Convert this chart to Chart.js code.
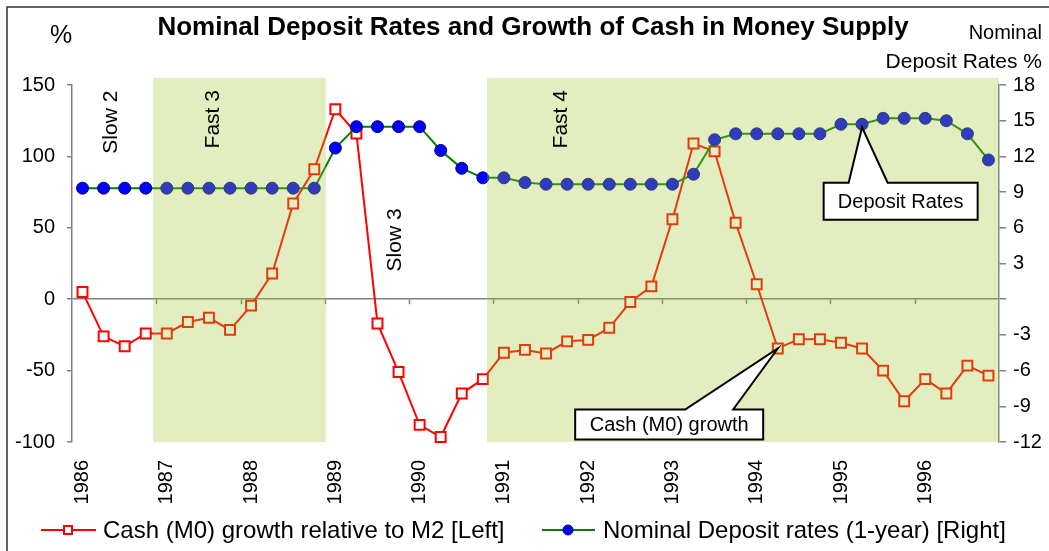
<!DOCTYPE html>
<html>
<head>
<meta charset="utf-8">
<script src="https://cdn.jsdelivr.net/npm/chart.js@4.4.1/dist/chart.umd.min.js"></script>
<style>
  html, body { margin: 0; padding: 0; background: #fff; }
  canvas { display: block; }
</style>
</head>
<body>
<canvas id="chart" width="1049" height="551"></canvas>
<script>
// Data (quarterly, 1986 Q1 - 1996 Q4)
const years = [1986, 1987, 1988, 1989, 1990, 1991, 1992, 1993, 1994, 1995, 1996];
const cashGrowth = [
  5, -26, -33, -24,
  -24, -16, -13, -21.5,
  -4.5, 18, 67, 91,
  133, 116, -17, -51,
  -88, -96.5, -66, -56,
  -37.5, -35.5, -38, -29.5,
  -28.5, -20, -2, 9,
  56, 109, 103.5, 53.5,
  10.5, -34.5, -28, -28,
  -30.5, -34.5, -50, -71.5,
  -56, -66, -46.5, -53.5
];
const depositRates = [
  9.33, 9.33, 9.33, 9.33,
  9.33, 9.33, 9.33, 9.33,
  9.33, 9.33, 9.33, 9.33,
  12.7, 14.5, 14.5, 14.5,
  14.5, 12.5, 11.0, 10.2,
  10.2, 9.8, 9.66, 9.66,
  9.66, 9.66, 9.66, 9.66,
  9.66, 10.5, 13.4, 13.9,
  13.9, 13.9, 13.9, 13.9,
  14.7, 14.7, 15.2, 15.2,
  15.2, 15.0, 13.9, 11.7
];
const fastPeriods = [[3.35, 11.55], [19.2, 43.5]];
const phaseNames = ['Slow 2', 'Fast 3', 'Slow 3', 'Fast 4'];

const labels = [];
years.forEach(yr => { labels.push(String(yr), '', '', ''); });

const FONT = '"Liberation Sans", Arial, sans-serif';

function drawCallout(ctx, tipX, tipY, cx, cy, w, h, b0, b1, text) {
  const left = cx - w / 2, top = cy - h / 2;
  ctx.beginPath();
  ctx.moveTo(left, top);
  ctx.lineTo(cx + b0, top);
  ctx.lineTo(tipX, tipY);
  ctx.lineTo(cx + b1, top);
  ctx.lineTo(left + w, top);
  ctx.lineTo(left + w, top + h);
  ctx.lineTo(left, top + h);
  ctx.closePath();
  ctx.fillStyle = '#fff';
  ctx.fill();
  ctx.strokeStyle = '#000';
  ctx.lineWidth = 2;
  ctx.stroke();
  ctx.fillStyle = '#000';
  ctx.font = '20px ' + FONT;
  ctx.textAlign = 'center';
  ctx.textBaseline = 'middle';
  ctx.fillText(text, cx, cy + 1);
}

const decor = {
  id: 'decor',
  beforeDatasetsDraw(chart) {
    const { ctx, scales: { x, y } } = chart;
    const y0 = y.getPixelForValue(0);
    ctx.save();
    ctx.strokeStyle = '#808080';
    ctx.lineWidth = 1.5;
    for (let i = 4; i < labels.length; i += 4) {
      const px = Math.round(x.getPixelForValue(i - 0.5)) + 0.5;
      ctx.beginPath();
      ctx.moveTo(px, y0);
      ctx.lineTo(px, y0 + 5);
      ctx.stroke();
    }
    ctx.restore();
  },
  afterDraw(chart) {
    const { ctx, scales: { x, y } } = chart;
    ctx.save();

    // shaded "fast" periods, laid over the plot
    ctx.fillStyle = 'rgba(160, 200, 43, 0.3)';
    const yTop = y.getPixelForValue(155), yBot = y.getPixelForValue(-100);
    fastPeriods.forEach(([a, b]) => {
      const x0 = x.getPixelForValue(a), x1 = x.getPixelForValue(b);
      ctx.fillRect(x0, yTop, x1 - x0, yBot - yTop);
    });

    // phase labels
    const phasePos = [[1.35, 124], [6.2, 126], [14.85, 41.5], [22.7, 126]];
    ctx.fillStyle = '#000';
    ctx.font = '21px ' + FONT;
    ctx.textAlign = 'center';
    ctx.textBaseline = 'middle';
    phaseNames.forEach((t, i) => {
      ctx.save();
      ctx.translate(x.getPixelForValue(phasePos[i][0]), y.getPixelForValue(phasePos[i][1]));
      ctx.rotate(-Math.PI / 2);
      ctx.fillText(t, 0, 0);
      ctx.restore();
    });

    // callouts
    const pDep = chart.getDatasetMeta(1).data[37];
    drawCallout(ctx, pDep.x, pDep.y + 3, pDep.x + 38.6, pDep.y + 77, 154, 37, -52, -13, 'Deposit Rates');
    const pCash = chart.getDatasetMeta(0).data[33];
    drawCallout(ctx, pCash.x, pCash.y, pCash.x - 108.6, pCash.y + 76, 188, 30, 16, 64, 'Cash (M0) growth');

    // title and axis titles
    ctx.fillStyle = '#000';
    ctx.textBaseline = 'alphabetic';
    ctx.textAlign = 'center';
    ctx.font = 'bold 26px ' + FONT;
    ctx.fillText('Nominal Deposit Rates and Growth of Cash in Money Supply', 533, 35);
    ctx.font = '25px ' + FONT;
    ctx.fillText('%', 61, 43);
    ctx.textAlign = 'right';
    ctx.font = '20px ' + FONT;
    ctx.fillText('Nominal', 1042, 39);
    ctx.font = '21px ' + FONT;
    ctx.fillText('Deposit Rates %', 1042, 68);

    // legend
    const ly = 530;
    ctx.lineWidth = 2;
    ctx.strokeStyle = '#ff0000';
    ctx.beginPath(); ctx.moveTo(41, ly); ctx.lineTo(96, ly); ctx.stroke();
    ctx.fillStyle = '#fff';
    ctx.fillRect(64, ly - 4, 8, 8);
    ctx.strokeRect(64, ly - 4, 8, 8);
    ctx.strokeStyle = '#008000';
    ctx.beginPath(); ctx.moveTo(542, ly); ctx.lineTo(595, ly); ctx.stroke();
    ctx.fillStyle = '#0000ff';
    ctx.strokeStyle = '#000080';
    ctx.lineWidth = 1;
    ctx.beginPath(); ctx.arc(568, ly, 5, 0, Math.PI * 2); ctx.fill(); ctx.stroke();
    ctx.fillStyle = '#000';
    ctx.font = '24px ' + FONT;
    ctx.textAlign = 'left';
    ctx.fillText(chart.data.datasets[0].label, 103, ly + 8);
    ctx.fillText(chart.data.datasets[1].label, 603, ly + 8);

    // outer frame
    ctx.strokeStyle = '#333';
    ctx.lineWidth = 1.5;
    ctx.strokeRect(7, 7, 1200, 700);
    ctx.restore();
  }
};

new Chart(document.getElementById('chart'), {
  type: 'line',
  data: {
    labels: labels,
    datasets: [
      {
        label: 'Cash (M0) growth relative to M2 [Left]',
        data: cashGrowth,
        yAxisID: 'y',
        borderColor: '#ff0000',
        borderWidth: 2,
        pointStyle: 'rect',
        pointRadius: 7,
        pointBorderWidth: 2,
        pointBackgroundColor: '#fff',
        pointBorderColor: '#ff0000',
        clip: 10,
        order: 2
      },
      {
        label: 'Nominal Deposit rates (1-year) [Right]',
        data: depositRates,
        yAxisID: 'y1',
        borderColor: '#008000',
        borderWidth: 2,
        pointStyle: 'circle',
        pointRadius: 6,
        pointBorderWidth: 1,
        pointBackgroundColor: '#0000ff',
        pointBorderColor: '#000080',
        clip: 10,
        order: 1
      }
    ]
  },
  options: {
    responsive: false,
    animation: false,
    devicePixelRatio: 1,
    layout: { padding: { top: 85, bottom: 39, left: 0, right: 0 } },
    plugins: { legend: { display: false }, title: { display: false }, tooltip: { enabled: false } },
    scales: {
      x: {
        type: 'category',
        offset: true,
        grid: { display: false },
        border: { display: false },
        ticks: { autoSkip: false, minRotation: 90, maxRotation: 90, padding: 10, color: '#000', font: { family: FONT, size: 20 } },
        afterFit(s) { s.height = 70; }
      },
      y: {
        position: 'left',
        min: -100,
        max: 150,
        ticks: { stepSize: 50, color: '#000', padding: 12, font: { family: FONT, size: 20 } },
        grid: {
          color: c => (c.tick && c.tick.value === 0 ? '#808080' : 'rgba(0,0,0,0)'),
          lineWidth: 1.5,
          tickColor: '#808080',
          tickLength: 5
        },
        border: { display: true, color: '#808080', width: 1.5 },
        afterFit(s) { s.width = 72; }
      },
      y1: {
        position: 'right',
        min: -12,
        max: 18,
        ticks: { stepSize: 3, color: '#000', padding: 7, font: { family: FONT, size: 20 }, callback: v => (v === 0 ? '' : v) },
        grid: { drawOnChartArea: false, tickLength: 7, color: '#808080', lineWidth: 1.5 },
        border: { display: true, color: '#808080', width: 1.5 },
        afterFit(s) { s.width = 50; }
      }
    }
  },
  plugins: [decor]
});
</script>
</body>
</html>
